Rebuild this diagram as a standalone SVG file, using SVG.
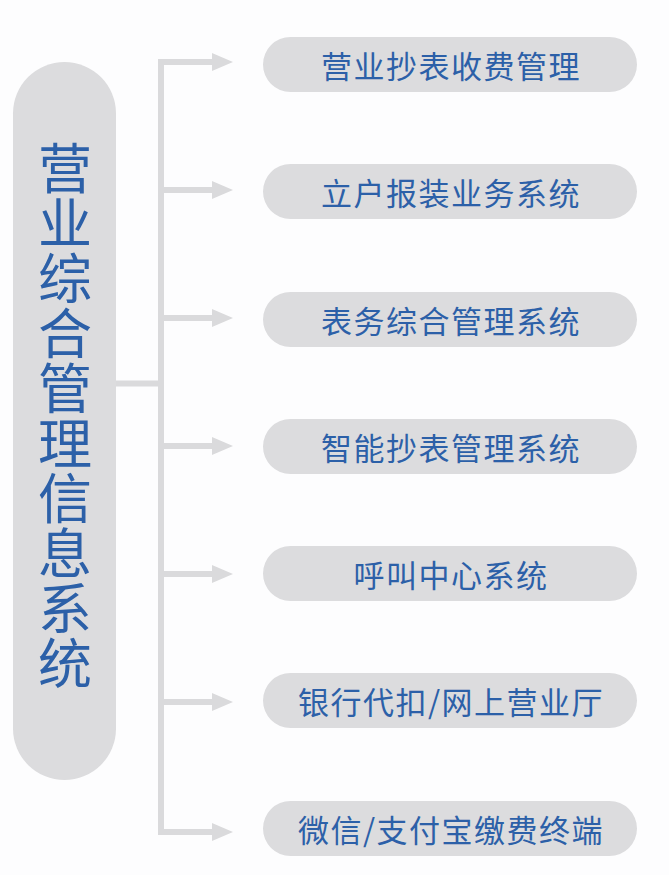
<svg xmlns="http://www.w3.org/2000/svg" width="669" height="875" viewBox="0 0 669 875">
<defs>
<style>
.pill{fill:#dcdcde}
.lbl{font-family:"Noto Sans CJK SC","Noto Sans",sans-serif;font-size:31px;fill:#2c60a8;text-anchor:middle;dominant-baseline:central;letter-spacing:1.5px}
.main{font-family:"Noto Sans CJK SC","Noto Sans",sans-serif;font-size:54px;fill:#2c60a8;text-anchor:middle;writing-mode:vertical-rl;letter-spacing:1px}
.con{stroke:#dadadc;stroke-width:6;fill:none}
</style>
<marker id="ah" markerWidth="4" markerHeight="3" refX="0" refY="1.5" orient="auto" markerUnits="strokeWidth"><path d="M0,0 L3.5,1.5 L0,3 Z" fill="#dadadc"/></marker>
</defs>
<rect width="669" height="875" fill="#fdfdfe"/>
<g id="main-node">
<rect class="pill" x="13" y="62" width="103" height="718" rx="51.5"/>
<text class="main" x="65" y="416">营业综合管理信息系统</text>
</g>
<g id="connectors">
<path class="con" d="M116,383.5 H161"/>
<path class="con" d="M161,59 V835"/>
<path class="con" d="M158,62 H212" marker-end="url(#ah)"/>
<path class="con" d="M161,190 H212" marker-end="url(#ah)"/>
<path class="con" d="M161,318 H212" marker-end="url(#ah)"/>
<path class="con" d="M161,446 H212" marker-end="url(#ah)"/>
<path class="con" d="M161,574 H212" marker-end="url(#ah)"/>
<path class="con" d="M161,702 H212" marker-end="url(#ah)"/>
<path class="con" d="M158,832 H212" marker-end="url(#ah)"/>
</g>
<g id="n1"><rect class="pill" x="263" y="37" width="374" height="55" rx="27.5"/><text class="lbl" x="451" y="64">营业抄表收费管理</text></g>
<g id="n2"><rect class="pill" x="263" y="164" width="374" height="55" rx="27.5"/><text class="lbl" x="451" y="191">立户报装业务系统</text></g>
<g id="n3"><rect class="pill" x="263" y="292" width="374" height="55" rx="27.5"/><text class="lbl" x="451" y="319">表务综合管理系统</text></g>
<g id="n4"><rect class="pill" x="263" y="419" width="374" height="55" rx="27.5"/><text class="lbl" x="451" y="446">智能抄表管理系统</text></g>
<g id="n5"><rect class="pill" x="263" y="546" width="374" height="55" rx="27.5"/><text class="lbl" x="451" y="573">呼叫中心系统</text></g>
<g id="n6"><rect class="pill" x="263" y="673" width="374" height="55" rx="27.5"/><text class="lbl" x="451" y="700">银行代扣/网上营业厅</text></g>
<g id="n7"><rect class="pill" x="263" y="801" width="374" height="55" rx="27.5"/><text class="lbl" x="451" y="828">微信/支付宝缴费终端</text></g>
</svg>
